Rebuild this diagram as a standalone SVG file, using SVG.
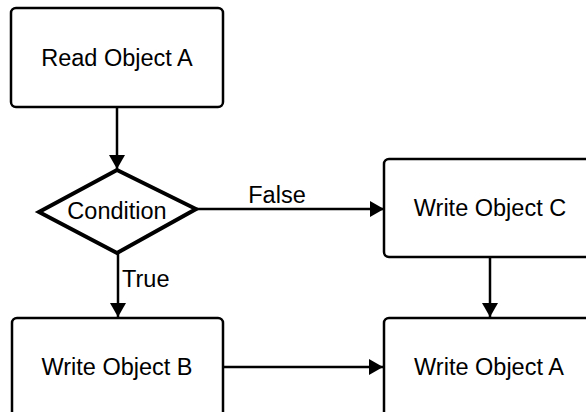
<svg xmlns="http://www.w3.org/2000/svg" width="586" height="412" viewBox="0 0 586 412">
  <defs>
    <marker id="arrow" viewBox="0 0 14 16" refX="14" refY="8" markerWidth="14" markerHeight="16" markerUnits="userSpaceOnUse" orient="auto">
      <path d="M0,0 L14,8 L0,16 Z" fill="#000"/>
    </marker>
    <style>
      .box { fill: #fff; stroke: #000; stroke-width: 2.5; }
      .dia { fill: #fff; stroke: #000; stroke-width: 4; stroke-linejoin: miter; }
      .edge { fill: none; stroke: #000; stroke-width: 2.5; marker-end: url(#arrow); }
      text { font-family: "Liberation Sans", Arial, Helvetica, sans-serif; font-size: 23.5px; fill: #000; }
      .c { text-anchor: middle; }
    </style>
  </defs>
  <rect width="586" height="412" fill="#fff"/>

  <g id="connectors">
    <line class="edge" x1="117" y1="107" x2="117" y2="169"/>
    <line class="edge" x1="196" y1="209" x2="384" y2="209"/>
    <line class="edge" x1="118" y1="253" x2="118" y2="317"/>
    <line class="edge" x1="490" y1="257" x2="490" y2="317"/>
    <line class="edge" x1="223" y1="367" x2="383" y2="367"/>
    <text x="277" y="203" class="c">False</text>
    <text x="122" y="287">True</text>
  </g>

  <g id="read-a">
    <rect class="box" x="11" y="8" width="212" height="99" rx="5"/>
    <text x="117" y="66" class="c">Read Object A</text>
  </g>

  <g id="condition">
    <polygon class="dia" points="117,170 196,209 117,253 39,212"/>
    <text x="117" y="219" class="c">Condition</text>
  </g>

  <g id="write-c">
    <rect class="box" x="384" y="159" width="212" height="98" rx="5"/>
    <text x="490" y="216" class="c">Write Object C</text>
  </g>

  <g id="write-b">
    <rect class="box" x="12" y="318" width="211" height="104" rx="5"/>
    <text x="117" y="375" class="c">Write Object B</text>
  </g>

  <g id="write-a">
    <rect class="box" x="384" y="318" width="212" height="104" rx="5"/>
    <text x="489" y="375" class="c">Write Object A</text>
  </g>
</svg>
